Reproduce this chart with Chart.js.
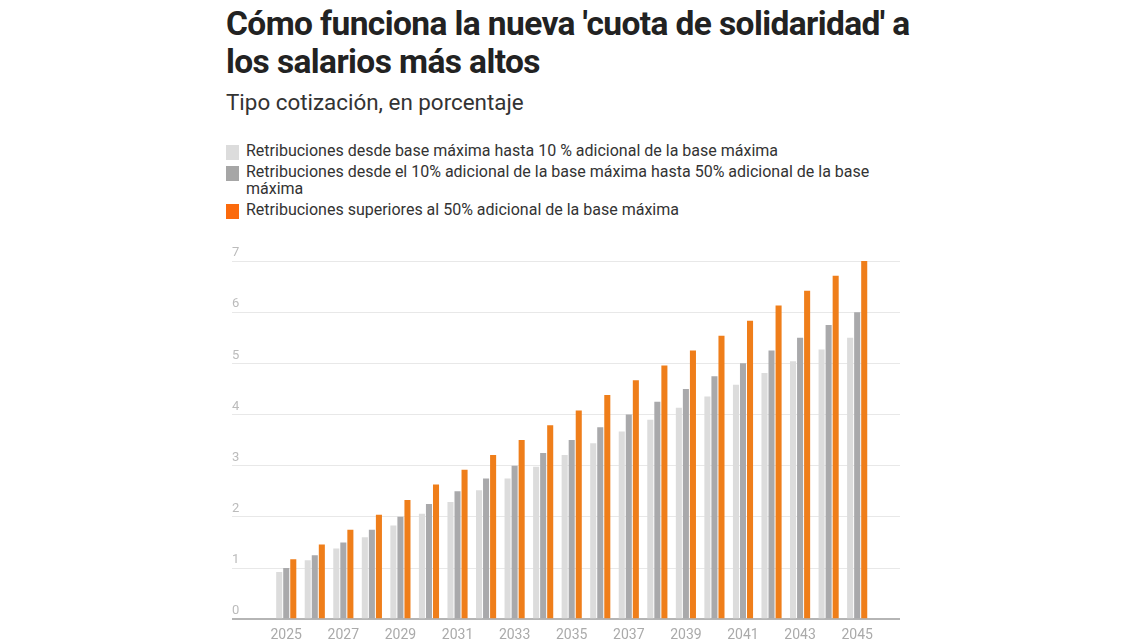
<!DOCTYPE html>
<html lang="es">
<head>
  <meta charset="UTF-8">
  <title>Cuota de solidaridad</title>
  <script src="https://cdn.jsdelivr.net/npm/chart.js"></script>
  <style>
    body { margin: 0; background: #fff; font-family: Roboto, "Noto Sans", sans-serif; color: #333; overflow: hidden; }
    #title { position: absolute; left: 226px; top: 5px; width: 720px; font-size: 33.5px; font-weight: 700; line-height: 38px; color: #222; letter-spacing: -0.6px; }
    #subtitle { position: absolute; left: 226px; top: 89px; font-size: 22.4px; color: #333; }
    #legend { position: absolute; left: 226px; top: 142px; width: 662px; font-size: 16px; line-height: 17px; color: #333; }
    #legend div { position: relative; padding-left: 20px; margin-bottom: 4px; }
    #legend span { position: absolute; left: 0; top: 3px; width: 13px; height: 15px; }
    #wrap { position: absolute; left: 0; top: 230px; width: 1140px; height: 422px; }
  </style>
</head>
<body>
<div id="title">Cómo funciona la nueva 'cuota de solidaridad' a los salarios más altos</div>
<div id="subtitle">Tipo cotización, en porcentaje</div>
<div id="legend"></div>
<div id="wrap"><canvas id="chart"></canvas></div>

<script>
const years = [2025, 2026, 2027, 2028, 2029, 2030, 2031, 2032, 2033, 2034, 2035,
               2036, 2037, 2038, 2039, 2040, 2041, 2042, 2043, 2044, 2045];
const tramo1 = [0.92, 1.15, 1.38, 1.60, 1.83, 2.06, 2.29, 2.52, 2.75, 2.98, 3.21,
                3.44, 3.67, 3.90, 4.13, 4.35, 4.58, 4.81, 5.04, 5.27, 5.50];
const tramo2 = [1.00, 1.25, 1.50, 1.75, 2.00, 2.25, 2.50, 2.75, 3.00, 3.25, 3.50,
                3.75, 4.00, 4.25, 4.50, 4.75, 5.00, 5.25, 5.50, 5.75, 6.00];
const tramo3 = [1.17, 1.46, 1.75, 2.04, 2.33, 2.63, 2.92, 3.21, 3.50, 3.79, 4.08,
                4.38, 4.67, 4.96, 5.25, 5.54, 5.83, 6.13, 6.42, 6.71, 7.00];
const xTicks = [2025, 2027, 2029, 2031, 2033, 2035, 2037, 2039, 2041, 2043, 2045];
const yTicks = [0, 1, 2, 3, 4, 5, 6, 7];

const series = [
  { label: 'Retribuciones desde base máxima hasta 10 % adicional de la base máxima', data: tramo1, color: '#dcdcdc', key: '#dcdcdc' },
  { label: 'Retribuciones desde el 10% adicional de la base máxima hasta 50% adicional de la base máxima', data: tramo2, color: '#a9a9ab', key: '#a6a6a6' },
  { label: 'Retribuciones superiores al 50% adicional de la base máxima', data: tramo3, color: '#ef7e1a', key: '#fb6a0c' }
];

// html legend (wraps like the original)
const leg = document.getElementById('legend');
series.forEach(s => {
  const d = document.createElement('div');
  d.innerHTML = '<span style="background:' + s.key + '"></span>' + s.label;
  leg.appendChild(d);
});

new Chart(document.getElementById('chart'), {
  type: 'bar',
  data: {
    datasets: series.map(s => ({
      label: s.label,
      data: years.map((y, i) => ({ x: y, y: s.data[i] })),
      backgroundColor: s.color,
      categoryPercentage: 0.74,
      barPercentage: 0.86
    }))
  },
  options: {
    responsive: true,
    maintainAspectRatio: false,
    animation: false,
    layout: { padding: { left: 232, right: 240, top: 31, bottom: 0 } },
    plugins: { legend: { display: false }, tooltip: { enabled: false } },
    scales: {
      x: {
        type: 'linear',
        offset: false,
        min: 2023.1,
        max: 2046.5,
        grid: { display: false, drawTicks: false },
        border: { display: false },
        afterBuildTicks: axis => { axis.ticks = xTicks.map(v => ({ value: v })); },
        ticks: {
          padding: 8,
          color: '#aaa',
          font: { family: 'Roboto', size: 14 },
          callback: v => String(v)
        }
      },
      y: {
        min: 0,
        max: 7,
        afterBuildTicks: axis => { axis.ticks = yTicks.map(v => ({ value: v })); },
        grid: {
          drawTicks: false,
          color: ctx => ctx.tick && ctx.tick.value === 0 ? '#b5b5b5' : '#e8e8e8',
          lineWidth: ctx => ctx.tick && ctx.tick.value === 0 ? 2 : 1
        },
        border: { display: false },
        ticks: {
          mirror: true,
          padding: 0,
          labelOffset: -8,
          color: '#bbb',
          font: { family: 'Roboto', size: 13 }
        }
      }
    }
  }
});
</script>
</body>
</html>
